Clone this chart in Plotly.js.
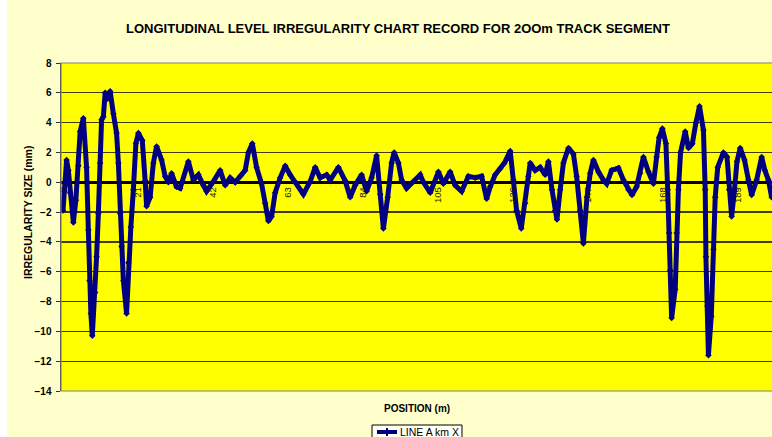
<!DOCTYPE html>
<html>
<head>
<meta charset="utf-8">
<script src="https://cdn.plot.ly/plotly-3.0.1.min.js"></script>
<style>
  html, body { margin: 0; padding: 0; background: #FFFFCC; }
  #chart { width: 772px; height: 437px; }
</style>
</head>
<body>
<div id="chart"></div>
<script>
// Position along the track segment (m)
var positions = [0, 0.4, 1.0, 1.5, 2.0, 2.9, 3.6, 4.3, 4.8, 5.7, 6.6, 7.1, 7.4, 7.8, 8.2, 9.0, 9.4, 9.9, 10.4, 10.8,
  11.3, 11.8, 12.5, 13.2, 14.1, 15.0, 15.5, 16.0, 16.4, 16.9, 17.8, 18.3, 19.0, 19.7, 20.4, 21.1, 22.2, 23.0, 23.4, 24.4,
  25.3, 26.2, 27.6, 28.6, 29.5, 30.4, 31.8, 32.8, 35.1, 36.5, 37.9, 39.3, 40.2, 42.1, 44.0, 45.4, 46.8, 48.2, 49.6, 51.0,
  51.9, 53.0, 54.2, 55.6, 56.6, 57.5, 58.4, 59.4, 60.8, 62.2, 63.6, 65.0, 67.3, 69.2, 70.6, 72.0, 73.8, 74.8, 77.1, 79.0,
  80.4, 81.8, 83.6, 85.0, 86.4, 87.8, 88.8, 89.7, 90.9, 92.0, 92.7, 93.9, 94.8, 96.2, 98.1, 100.0, 100.8, 102.8, 105.1, 106.5,
  108.4, 109.8, 111.6, 113.5, 115.4, 117.2, 118.6, 119.6, 121.0, 122.4, 123.6, 125.2, 126.1, 127.0, 128.3, 129.4, 130.3, 130.8, 132.2, 133.6,
  135.0, 135.9, 136.9, 137.8, 138.3, 139.2, 140.1, 141.5, 142.9, 143.8, 144.8, 145.7, 146.7, 147.6, 148.5, 149.9, 151.3, 152.2, 153.6, 155.5,
  156.9, 158.3, 159.3, 160.6, 161.6, 162.5, 163.9, 165.3, 166.2, 166.9, 167.8, 168.8, 169.3, 169.7, 170.0, 170.4, 171.4, 171.8, 172.3, 172.9,
  174.2, 175.1, 176.2, 177.2, 178.2, 179.3, 179.8, 180.0, 180.4, 180.7, 181.5, 182.1, 182.6, 183.3, 184.9, 185.9, 186.5, 187.2, 188.0, 188.7,
  189.6, 190.8, 191.9, 192.8, 194.2, 195.6, 196.5, 197.5, 198.4];

// Irregularity size (mm), LINE A km X
var irregularity = [-1.9, -0.6, 1.5, 0.8, -0.7, -2.7, -1.2, 1.1, 3.4, 4.3, 1.0, -3.2, -6.6, -8.8, -10.3, -7.4, -5.0, -2.1, 1.3, 4.2,
  4.4, 6.0, 5.6, 6.1, 4.6, 3.3, 1.3, -2.1, -4.3, -6.6, -8.8, -5.4, -3.0, -0.5, 2.6, 3.3, 2.8, 0.1, -1.6, -1.0,
  1.3, 2.4, 1.5, 0.4, 0.0, 0.6, -0.3, -0.4, 1.4, 0.15, 0.5, -0.2, -0.6, 0.05, 0.8, -0.2, 0.3, 0.0, 0.4, 0.8,
  2.0, 2.6, 1.0, -0.1, -1.4, -2.6, -2.3, -0.7, 0.3, 1.1, 0.5, 0.0, -0.8, 0.05, 1.0, 0.3, 0.5, 0.15, 1.0, 0.1,
  -1.0, -0.2, 0.5, -0.6, 0.3, 1.8, -0.8, -3.1, -1.0, 1.3, 2.0, 1.3, 0.15, -0.4, 0.05, 0.5, 0.05, -0.7, 0.7, -0.1,
  0.7, -0.2, -0.6, 0.4, 0.3, 0.4, -1.1, -0.3, 0.5, 0.9, 1.3, 2.1, 0.15, -1.9, -3.1, -1.4, 0.4, 1.3, 0.8, 1.0,
  0.5, 1.4, -0.5, -1.9, -2.5, -0.5, 1.3, 2.3, 1.9, 0.4, -1.9, -4.1, -1.0, 0.6, 1.5, 0.7, 0.15, -0.1, 0.8, 0.95,
  0.15, -0.5, -0.85, -0.3, 0.6, 1.7, 0.7, -0.1, 1.7, 3.0, 3.6, 2.6, -0.5, -3.4, -5.9, -9.1, -7.2, -3.4, -0.5, 2.0,
  3.4, 2.3, 2.6, 4.0, 5.1, 3.5, -0.5, -5.0, -8.3, -11.6, -9.0, -4.5, -1.0, 1.0, 2.0, 1.7, -0.5, -2.3, -0.5, 1.4,
  2.3, 1.5, 0.15, -0.85, 0.15, 1.7, 0.8, 0.15, -1.0];

var xTickVals = [0, 21, 42, 63, 84, 105, 126, 147, 168, 189];
var xTickText = ['0', '21', '42', '63', '84', '105', '126', '147', '168', '189'];
var yTickVals = [-14, -12, -10, -8, -6, -4, -2, 0, 2, 4, 6, 8];

var seriesName = 'LINE A km X';
var chartTitle = 'LONGITUDINAL LEVEL IRREGULARITY CHART RECORD FOR 2OOm TRACK SEGMENT';
var xTitle = 'POSITION (m)';
var yTitle = 'IRREGULARITY SIZE (mm)';

var FONT = 'Arial, "Liberation Sans", sans-serif';
var NAVY = '#000080';

// plot-area pixel box helpers (for placing non-data decorations)
var PL = 61, PW = 711, PT = 63, PH = 328;
function px(x) { return (x - PL) / PW; }
function py(y) { return (PT + PH - y) / PH; }

var trace = {
  x: positions,
  y: irregularity,
  type: 'scatter',
  mode: 'lines+markers',
  name: seriesName,
  line: { color: NAVY, width: 5 },
  marker: { color: NAVY, size: 5, symbol: 'diamond' },
  showlegend: false
};

var layout = {
  width: 772,
  height: 437,
  margin: { l: 61, r: 0, t: 63, b: 46, pad: 0, autoexpand: false },
  paper_bgcolor: '#FFFFCC',
  plot_bgcolor: '#FFFF00',
  font: { family: FONT, color: '#000000', size: 9 },
  title: {
    text: chartTitle,
    font: { family: FONT, size: 13, color: '#000000', weight: 'bold' },
    x: px(398), xanchor: 'center', xref: 'paper',
    y: 1 - 28 / 437, yanchor: 'middle', yref: 'container'
  },
  xaxis: {
    range: [-0.56, 198.5],
    tickmode: 'array',
    tickvals: xTickVals,
    ticktext: xTickText,
    tickangle: -90,
    tickfont: { family: FONT, size: 9.5, color: '#1a1a00' },
    anchor: 'free',
    position: 14 / 22,
    showgrid: false,
    zeroline: false,
    showline: false,
    ticks: '',
    ticklabelstandoff: 2
  },
  yaxis: {
    range: [-14, 8],
    tickmode: 'array',
    tickvals: yTickVals,
    tickfont: { family: FONT, size: 10, color: '#000000', weight: 'bold' },
    showgrid: true,
    gridcolor: '#3d3d00',
    gridwidth: 1.3,
    zeroline: true,
    zerolinecolor: '#000000',
    zerolinewidth: 3,
    showline: true,
    linecolor: '#333333',
    linewidth: 1.5,
    ticks: 'outside',
    ticklen: 4,
    tickcolor: '#333333',
    ticklabelstandoff: 2
  },
  showlegend: false,
  annotations: [
    {
      text: xTitle, xref: 'paper', yref: 'paper',
      x: px(417), y: py(408),
      xanchor: 'center', yanchor: 'middle', showarrow: false,
      font: { family: FONT, size: 10, color: '#000000', weight: 'bold' }
    },
    {
      text: yTitle, xref: 'paper', yref: 'paper',
      x: px(28), y: py(213),
      xanchor: 'center', yanchor: 'middle', showarrow: false, textangle: -90,
      font: { family: FONT, size: 10.5, color: '#000000', weight: 'bold' }
    },
    {
      text: seriesName, xref: 'paper', yref: 'paper',
      x: px(398), y: py(432),
      xanchor: 'left', yanchor: 'middle', showarrow: false,
      font: { family: FONT, size: 10.5, color: '#000000' }
    }
  ],
  shapes: [
    {
      type: 'rect', xref: 'paper', yref: 'paper',
      x0: 0, x1: 1.01, y0: 0, y1: 1,
      line: { color: '#808080', width: 1.2 }, fillcolor: 'rgba(0,0,0,0)', layer: 'above'
    },
    {
      type: 'rect', xref: 'paper', yref: 'paper',
      x0: px(0), x1: px(7), y0: py(437), y1: py(0),
      line: { width: 0 }, fillcolor: '#FFFFFF', layer: 'below'
    },
    // legend box
    {
      type: 'rect', xref: 'paper', yref: 'paper',
      x0: px(372), x1: px(462), y0: py(445), y1: py(425),
      line: { color: '#000000', width: 1 }, fillcolor: '#FFFFF4', layer: 'above'
    },
    // legend line sample
    {
      type: 'line', xref: 'paper', yref: 'paper',
      x0: px(377), x1: px(397), y0: py(432), y1: py(432),
      line: { color: NAVY, width: 4 }, layer: 'above'
    },
    {
      type: 'line', xref: 'paper', yref: 'paper',
      x0: px(387), x1: px(387), y0: py(436), y1: py(428),
      line: { color: NAVY, width: 2 }, layer: 'above'
    }
  ]
};

Plotly.newPlot('chart', [trace], layout, { displayModeBar: false, staticPlot: true });
</script>
</body>
</html>
